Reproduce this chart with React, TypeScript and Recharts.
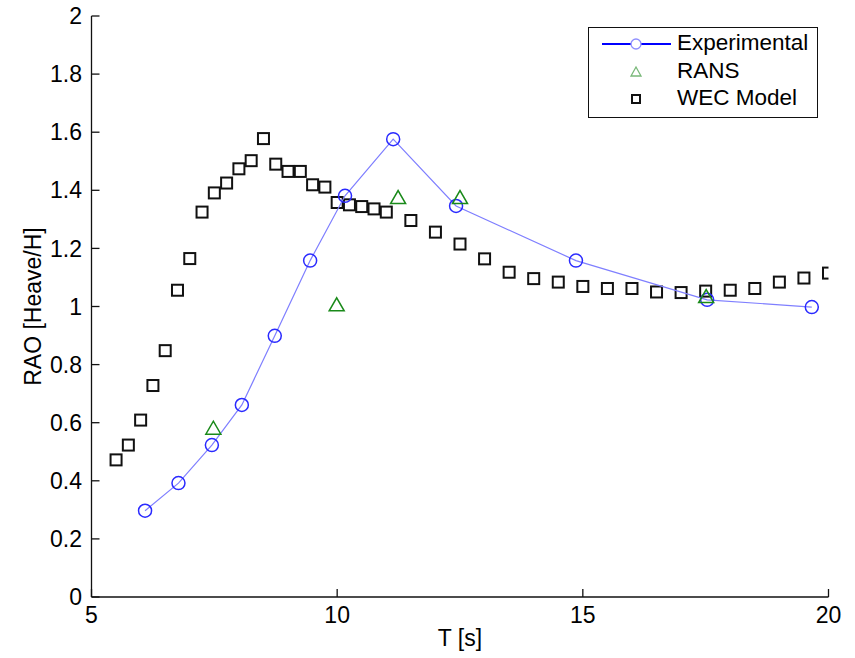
import React from 'react';
import { ScatterChart, Scatter, XAxis, YAxis, Legend } from 'recharts';

const expT = [6.09, 6.77, 7.45, 8.06, 8.73, 9.45, 10.16, 11.14, 12.42, 14.86, 17.53, 19.66];
const expRAO = [0.297, 0.392, 0.523, 0.661, 0.899, 1.158, 1.381, 1.576, 1.346, 1.158, 1.023, 0.998];

const ransT = [7.48, 9.99, 11.24, 12.5, 17.51];
const ransRAO = [0.581, 1.006, 1.375, 1.375, 1.034];

const wecT = [
  5.5, 5.75, 6, 6.25, 6.5, 6.75, 7, 7.25, 7.5, 7.75, 8, 8.25, 8.5, 8.75, 9, 9.25, 9.5, 9.75, 10,
  10.25, 10.5, 10.75, 11, 11.5, 12, 12.5, 13, 13.5, 14, 14.5, 15, 15.5, 16, 16.5, 17, 17.5, 18,
  18.5, 19, 19.5, 20,
];
const wecRAO = [
  0.472, 0.523, 0.609, 0.728, 0.848, 1.056, 1.165, 1.325, 1.391, 1.425, 1.474, 1.502, 1.578, 1.49,
  1.465, 1.465, 1.419, 1.411, 1.358, 1.35, 1.344, 1.336, 1.325, 1.296, 1.256, 1.215, 1.164, 1.118,
  1.096, 1.084, 1.069, 1.062, 1.062, 1.05, 1.048, 1.053, 1.056, 1.062, 1.084, 1.098, 1.115,
];

const xTicks = [5, 10, 15, 20];
const yTicks = [0, 0.2, 0.4, 0.6, 0.8, 1, 1.2, 1.4, 1.6, 1.8, 2];

const seriesNames = ['Experimental', 'RANS', 'WEC Model'];

const expData = expT.map((x, i) => ({ x, y: expRAO[i] }));
const ransData = ransT.map((x, i) => ({ x, y: ransRAO[i] }));
const wecData = wecT.map((x, i) => ({ x, y: wecRAO[i] }));

const FONT = '"Liberation Sans", Arial, Helvetica, sans-serif';
const FS = 23;

const CircleShape = (p: any) => (
  <circle cx={p.cx} cy={p.cy} r={6.5} fill="none" stroke="#2a2aff" strokeWidth={1.5} />
);
const TriShape = (p: any) => (
  <polygon
    points={`${p.cx - 7.5},${p.cy + 6} ${p.cx + 7.5},${p.cy + 6} ${p.cx},${p.cy - 7}`}
    fill="none"
    stroke="#1a8a1a"
    strokeWidth={1.5}
  />
);
const SquareShape = (p: any) => (
  <rect x={p.cx - 5.5} y={p.cy - 5.5} width={11} height={11} fill="none" stroke="#111" strokeWidth={2} />
);

const LegendBox = () => (
  <div
    style={{
      width: 230,
      height: 91,
      boxSizing: 'border-box',
      border: '1.5px solid #111',
      background: '#fff',
      fontFamily: FONT,
      fontSize: 22.5,
      color: '#000',
      position: 'relative',
    }}
  >
    <svg width={90} height={88} style={{ position: 'absolute', left: 0, top: 0 }}>
      <line x1={13} x2={82} y1={16} y2={16} stroke="#0000ff" strokeWidth={2} />
      <circle cx={47} cy={16} r={5} fill="#fff" stroke="#8f8fff" strokeWidth={1.3} />
      <polygon points="42,48 52,48 47,39" fill="none" stroke="#79b879" strokeWidth={1.3} />
      <rect x={43} y={67} width={8} height={8} fill="none" stroke="#111" strokeWidth={2} />
    </svg>
    {seriesNames.map((n, i) => (
      <div
        key={n}
        style={{ position: 'absolute', left: 88, top: 2 + i * 27.5, lineHeight: '26px', whiteSpace: 'nowrap' }}
      >
        {n}
      </div>
    ))}
  </div>
);

export default function App() {
  return (
    <div style={{ position: 'absolute', left: 0, top: 0, background: '#fff' }}>
      <ScatterChart
        width={855}
        height={658}
        margin={{ top: 16, right: 26.5, bottom: 12, left: 31.5 }}
      >
        <XAxis
          type="number"
          dataKey="x"
          domain={[5, 20]}
          ticks={xTicks}
          allowDataOverflow
          height={49}
          tickSize={-8}
          tickMargin={18}
          axisLine={{ stroke: '#111', strokeWidth: 1.3 }}
          tickLine={{ stroke: '#111', strokeWidth: 1.3 }}
          tick={{ fontSize: FS, fill: '#000', fontFamily: FONT }}
          label={{ value: 'T [s]', position: 'insideBottom', offset: 0, fontSize: FS, fill: '#000', fontFamily: FONT }}
        />
        <XAxis
          xAxisId="t"
          orientation="top"
          type="number"
          dataKey="x"
          domain={[5, 20]}
          ticks={xTicks}
          allowDataOverflow
          height={0}
          tickSize={-8}
          tickFormatter={() => ''}
          axisLine={{ stroke: '#111', strokeWidth: 1.3 }}
          tickLine={{ stroke: '#111', strokeWidth: 1.3 }}
        />
        <YAxis
          type="number"
          dataKey="y"
          domain={[0, 2]}
          ticks={yTicks}
          allowDataOverflow
          width={60}
          tickSize={-8}
          tickMargin={17.5}
          axisLine={{ stroke: '#111', strokeWidth: 1.3 }}
          tickLine={{ stroke: '#111', strokeWidth: 1.3 }}
          tick={{ fontSize: FS, fill: '#000', fontFamily: FONT }}
          label={{
            value: 'RAO [Heave/H]',
            angle: -90,
            position: 'insideLeft',
            offset: 1,
            fontSize: FS,
            fill: '#000',
            fontFamily: FONT,
            style: { textAnchor: 'middle' },
          }}
        />
        <YAxis
          yAxisId="r"
          orientation="right"
          type="number"
          dataKey="y"
          domain={[0, 2]}
          ticks={yTicks}
          allowDataOverflow
          width={0}
          tickSize={-8}
          tickFormatter={() => ''}
          axisLine={{ stroke: '#111', strokeWidth: 1.3 }}
          tickLine={{ stroke: '#111', strokeWidth: 1.3 }}
        />
        <Scatter
          name="WEC Model"
          data={wecData}
          shape={SquareShape}
          isAnimationActive={false}
        />
        <Scatter
          name="Experimental"
          data={expData}
          shape={CircleShape}
          line={{ stroke: '#7f7fff', strokeWidth: 1.2 }}
          isAnimationActive={false}
        />
        <Scatter
          name="RANS"
          data={ransData}
          shape={TriShape}
          isAnimationActive={false}
        />
        <Legend
          layout="vertical"
          align="center"
          verticalAlign="middle"
          content={() => <LegendBox />}
          wrapperStyle={{ position: 'absolute', left: 588, top: 27, width: 230, height: 91 }}
        />
      </ScatterChart>
    </div>
  );
}
